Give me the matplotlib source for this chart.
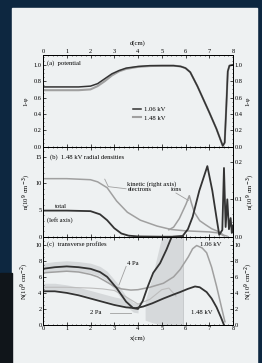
import matplotlib
matplotlib.use('Agg')
import matplotlib.pyplot as plt
from matplotlib.patches import Rectangle
from matplotlib.ticker import MultipleLocator

# (a) potential, 1 - phi vs d
d_a = [0, 0.5, 1, 1.5, 2, 2.3, 2.6, 2.9, 3.2, 3.5, 4, 4.5, 5, 5.5, 5.8, 6.0, 6.2, 6.5, 7.0, 7.3, 7.57, 7.65, 7.72, 7.78, 7.85, 8.0]
phi_106 = [0.73, 0.73, 0.73, 0.73, 0.74, 0.77, 0.83, 0.89, 0.93, 0.96, 0.98, 0.99, 0.99, 0.99, 0.98, 0.96, 0.91, 0.74, 0.42, 0.22, 0.01, 0.05, 0.5, 0.92, 0.99, 1.0]
phi_148 = [0.69, 0.69, 0.69, 0.69, 0.70, 0.74, 0.80, 0.87, 0.92, 0.95, 0.975, 0.985, 0.99, 0.99, 0.98, 0.96, 0.91, 0.74, 0.42, 0.22, 0.01, 0.05, 0.5, 0.92, 0.99, 1.0]

# (b) 1.48 kV radial densities
d_tot = [0, 1, 2, 2.4, 2.7, 3.0, 3.3, 3.6, 4, 5, 5.9]
n_tot = [4.9, 4.9, 4.8, 4.2, 3.1, 1.6, 0.6, 0.2, 0.05, 0.0, 0.0]
d_el = [0, 1, 2, 2.3, 2.7, 3.1, 3.55, 4.1, 4.8, 5.4, 6.0, 6.5, 7.0, 7.4, 7.6]
n_el = [10.9, 10.9, 10.7, 10.3, 9.2, 6.7, 4.6, 3.1, 2.0, 1.35, 1.1, 1.0, 0.9, 0.7, 0.2]
d_kin_l = [5.3, 5.5, 5.74, 6.02, 6.16, 6.25, 6.37, 6.6, 6.86, 7.1, 7.42, 7.6, 7.75]
n_kin_l = [1.3, 1.8, 3.4, 6.1, 7.7, 6.3, 4.6, 3.0, 2.2, 1.5, 0.9, 0.3, 0.1]
d_kin_d = [5.5, 5.88, 6.1, 6.3, 6.58, 6.92, 7.13, 7.3, 7.42, 7.55, 7.62, 7.69, 7.76, 7.83, 7.9, 7.95, 8.0]
n_kin_d = [0.0, 0.002, 0.02, 0.053, 0.123, 0.189, 0.123, 0.053, 0.005, 0.018, 0.184, 0.026, 0.10, 0.02, 0.05, 0.01, 0.03]

# (c) transverse profiles
x_A = [0, 0.5, 1, 1.5, 2, 2.4, 2.7, 3.1, 3.5, 3.8, 4.0, 4.2, 4.4, 4.64, 4.93, 5.2, 5.42, 5.5]
N_A = [7.0, 7.2, 7.3, 7.2, 7.0, 6.6, 6.0, 4.6, 2.9, 2.1, 2.0, 3.0, 4.7, 6.5, 7.7, 9.4, 11.0, 11.5]
x_B = [0, 0.5, 1, 1.5, 2, 2.3, 2.6, 3.0, 3.3, 3.7, 4.0, 4.5, 5.07, 5.5, 5.77, 6.12, 6.3, 6.47, 6.7, 6.89, 7.1, 7.31, 7.5, 7.66]
N_B = [6.5, 6.6, 6.7, 6.6, 6.3, 6.0, 5.5, 4.8, 4.5, 4.35, 4.4, 4.7, 5.2, 6.0, 6.9, 8.5, 9.5, 9.9, 9.6, 9.0, 7.2, 4.8, 2.4, 0.4]
x_C = [0, 0.5, 1, 1.5, 2, 2.5, 3, 3.5, 3.9, 4.22, 4.6, 5.07, 5.5, 5.77, 6.1, 6.4, 6.6, 6.89, 7.1, 7.31, 7.5, 7.62]
N_C = [4.2, 4.2, 4.0, 3.7, 3.3, 2.9, 2.5, 2.2, 2.1, 2.3, 2.7, 3.3, 3.8, 4.1, 4.5, 4.8, 4.7, 4.1, 3.3, 2.2, 0.9, 0.0]
x_D = [0, 1, 2, 2.5, 3, 3.5, 4, 4.5, 5.0, 5.3, 5.6]
N_D = [4.7, 4.7, 4.6, 4.5, 4.3, 3.5, 2.6, 3.2, 4.4, 4.6, 3.6]
x_shade = [4.3, 4.6, 5.0, 5.9]
shade_lo = [0.6, 0.3, 0.0, 0.0]
shade_hi = [3.0, 6.0, 11.0, 11.0]

dark = '#333333'
light = '#a0a0a0'
shade = '#d6d9db'
paper_c = '#eef1f2'
fs = 4.8

plt.rcParams['font.family'] = ['Liberation Serif', 'DejaVu Serif']
plt.rcParams['font.size'] = 4.6
plt.rcParams['axes.linewidth'] = 0.7
for ax_ in ['xtick', 'ytick']:
    plt.rcParams[ax_ + '.direction'] = 'in'
    plt.rcParams[ax_ + '.major.size'] = 2
    plt.rcParams[ax_ + '.minor.size'] = 1
    plt.rcParams[ax_ + '.major.width'] = 0.5
    plt.rcParams[ax_ + '.minor.width'] = 0.4
    plt.rcParams[ax_ + '.major.pad'] = 1

fig = plt.figure(figsize=(2.62, 3.63), dpi=100)
fig.patch.set_facecolor('#0d2740')
fig.patches.append(Rectangle((12/262, 0), 245/262, 355/363, transform=fig.transFigure, color=paper_c, zorder=-10))
fig.patches.append(Rectangle((0, 0), 12/262, 90/363, transform=fig.transFigure, color='#10151a', zorder=-10))

L, W = 43/262, 190/262
ax_a = fig.add_axes([L, 1 - 146.7/363, W, 91.7/363])
ax_b = fig.add_axes([L, 1 - 236.7/363, W, 90/363])
ax_c = fig.add_axes([L, 1 - 325/363, W, 88.3/363])

for ax in [ax_a, ax_b, ax_c]:
    ax.set_facecolor('none')
    ax.set_xlim(0, 8)
    ax.xaxis.set_major_locator(MultipleLocator(1))
    ax.xaxis.set_minor_locator(MultipleLocator(0.2))
    ax.tick_params(which='both', top=True, bottom=True)

# (a)
ax_a.plot(d_a, phi_148, color=light, lw=1.5, label='1.48 kV')
ax_a.plot(d_a, phi_106, color=dark, lw=1.1, label='1.06 kV')
ax_a.set_ylim(0, 1.12)
ax_a.yaxis.set_minor_locator(MultipleLocator(0.05))
ax_a.xaxis.tick_top()
ax_a.tick_params(which='both', bottom=True, labelbottom=False, labeltop=True)
ax_a.xaxis.set_label_position('top')
ax_a.set_xlabel('d(cm)', labelpad=3, fontsize=fs)
ax_a.set_ylabel('1-φ', labelpad=4, fontsize=fs)
ax_a.text(0.15, 1.02, '(a)  potential', va='center', fontsize=fs)
h, l = ax_a.get_legend_handles_labels()
ax_a.legend(h[::-1], l[::-1], loc='center', bbox_to_anchor=(0.56, 0.36), frameon=False,
            handlelength=1.2, handletextpad=0.5, labelspacing=0.4, fontsize=fs)
ax_a2 = ax_a.twinx()
ax_a2.set_ylim(0, 1.12)
ax_a2.yaxis.set_minor_locator(MultipleLocator(0.05))
ax_a2.tick_params(which='both', direction='in', pad=1)
ax_a2.set_ylabel('1-φ', labelpad=2, fontsize=fs)
ax_a.set_yticks([0, 0.2, 0.4, 0.6, 0.8, 1.0], ['0.0', '0.2', '0.4', '0.6', '0.8', '1.0'])
ax_a2.set_yticks([0, 0.2, 0.4, 0.6, 0.8, 1.0], ['0.0', '0.2', '0.4', '0.6', '0.8', '1.0'])

# (b)
ax_b.plot(d_el, n_el, color=light, lw=1.1)
ax_b.plot(d_kin_l, n_kin_l, color=light, lw=1.1)
ax_b.plot(d_tot, n_tot, color=dark, lw=1.3)
ax_b.set_ylim(0, 16.9)
ax_b.yaxis.set_major_locator(MultipleLocator(5))
ax_b.yaxis.set_minor_locator(MultipleLocator(1))
ax_b.tick_params(which='both', labelbottom=False, labeltop=False)
ax_b.set_ylabel('n(10$^9$ cm$^{-3}$)', labelpad=2, fontsize=fs)
ax_b.text(0.3, 15.0, '(b)  1.48 kV radial densities', va='center', fontsize=fs)
ax_b.text(3.55, 9.9, 'kinetic (right axis)', va='center', fontsize=fs)
ax_b.text(3.55, 8.9, 'electrons', va='center', fontsize=fs)
ax_b.text(5.4, 8.9, 'ions', va='center', fontsize=fs)
ax_b.text(0.5, 5.7, 'total', va='center', fontsize=fs)
ax_b.text(0.15, 3.1, '(left axis)', va='center', fontsize=fs)
ax_b.plot([3.5, 2.75, 2.6], [9.0, 9.4, 10.8], color=light, lw=0.6)
ax_b.plot([5.6, 6.05, 6.12], [8.2, 7.0, 6.8], color=light, lw=0.6)
ax_b2 = ax_b.twinx()
ax_b2.plot(d_kin_d, n_kin_d, color=dark, lw=1.3)
ax_b2.set_ylim(0, 0.241)
ax_b2.set_yticks([0, 0.1, 0.2], ['0.0', '0.1', '0.2'])
ax_b2.yaxis.set_minor_locator(MultipleLocator(0.02))
ax_b2.tick_params(which='both', direction='in', pad=1)
ax_b2.set_ylabel('n(10$^9$ cm$^{-3}$)', labelpad=2, fontsize=fs)

# (c)
ax_c.fill_between(x_shade, shade_lo, shade_hi, color=shade, lw=0)
ax_c.fill_between(x_A[:11], [v - 0.5 for v in N_A[:11]], [v + 0.7 for v in N_A[:11]], color=shade, lw=0)
ax_c.fill_between(x_C[:8], [v + 0.2 for v in N_C[:8]], [v + 1.0 for v in N_C[:8]], color=shade, lw=0)
ax_c.axvline(5.9, color='#c4c7c9', lw=0.6)
ax_c.plot(x_D, N_D, color='#bdbdbd', lw=0.8)
ax_c.plot(x_B, N_B, color=light, lw=1.1)
ax_c.plot(x_C, N_C, color=dark, lw=1.3)
ax_c.plot(x_A, N_A, color=dark, lw=1.3)
ax_c.set_ylim(0, 11)
ax_c.yaxis.set_major_locator(MultipleLocator(2))
ax_c.yaxis.set_minor_locator(MultipleLocator(0.5))
ax_c.tick_params(which='both', labeltop=False)
ax_c.set_xlabel('x(cm)', labelpad=3, fontsize=fs)
ax_c.set_ylabel('N(10$^9$ cm$^{-2}$)', labelpad=3, fontsize=fs)
ax_c.text(0.15, 10.1, '(c)  transverse profiles', va='center', fontsize=fs)
ax_c.text(3.55, 7.7, '4 Pa', va='center', fontsize=fs)
ax_c.plot([3.5, 3.2], [7.3, 5.0], color=light, lw=0.6)
ax_c.text(2.0, 1.5, '2 Pa', va='center', fontsize=fs)
ax_c.plot([2.8, 3.7], [1.5, 1.5], color=light, lw=0.6)
ax_c.text(6.6, 10.0, '1.06 kV', va='center', fontsize=fs)
ax_c.text(6.25, 1.5, '1.48 kV', va='center', fontsize=fs)
ax_c2 = ax_c.twinx()
ax_c2.set_ylim(0, 11)
ax_c2.yaxis.set_major_locator(MultipleLocator(2))
ax_c2.yaxis.set_minor_locator(MultipleLocator(0.5))
ax_c2.tick_params(which='both', direction='in', pad=1)
ax_c2.set_ylabel('N(10$^9$ cm$^{-2}$)', labelpad=2, fontsize=fs)

fig.savefig('out.png', dpi=100, facecolor=fig.get_facecolor())
